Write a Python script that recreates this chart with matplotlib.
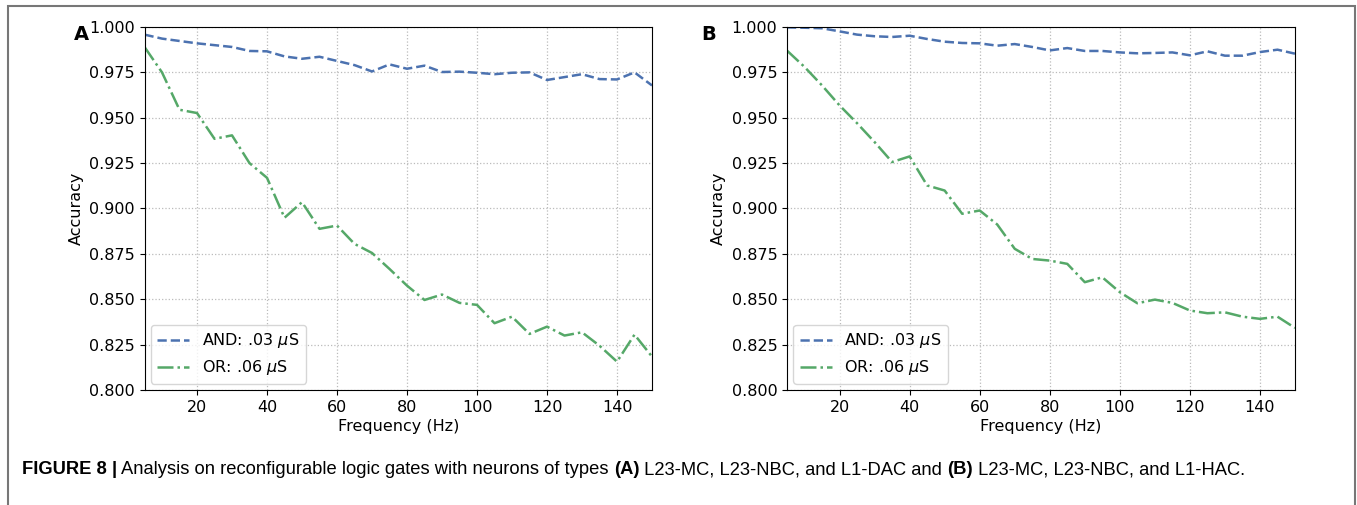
import numpy as np
import matplotlib
matplotlib.use("Agg")
import matplotlib.pyplot as plt
from matplotlib.patches import Rectangle

# frequencies (Hz)
freq = np.arange(5, 151, 5)

# panel A: L23-MC, L23-NBC, L1-DAC
and_a = [0.9958, 0.9936, 0.9923, 0.9910, 0.9900, 0.9890, 0.9868, 0.9866, 0.9838, 0.9825,
         0.9836, 0.9813, 0.9790, 0.9755, 0.9794, 0.9770, 0.9787, 0.9752, 0.9754, 0.9748,
         0.9740, 0.9748, 0.9750, 0.9708, 0.9724, 0.9740, 0.9713, 0.9711, 0.9750, 0.9678]
or_a = [0.9890, 0.9750, 0.9544, 0.9526, 0.9384, 0.9403, 0.9250, 0.9169, 0.8949, 0.9035,
        0.8888, 0.8906, 0.8805, 0.8755, 0.8667, 0.8575, 0.8496, 0.8526, 0.8480, 0.8469,
        0.8368, 0.8404, 0.8309, 0.8349, 0.8300, 0.8318, 0.8244, 0.8156, 0.8305, 0.8184]

# panel B: L23-MC, L23-NBC, L1-HAC
and_b = [0.9998, 0.9996, 0.9993, 0.9976, 0.9958, 0.9949, 0.9945, 0.9952, 0.9934, 0.9919,
         0.9912, 0.9910, 0.9897, 0.9906, 0.9890, 0.9871, 0.9884, 0.9868, 0.9868, 0.9860,
         0.9855, 0.9857, 0.9860, 0.9844, 0.9866, 0.9842, 0.9842, 0.9862, 0.9875, 0.9853]
or_b = [0.9870, 0.9780, 0.9678, 0.9568, 0.9470, 0.9366, 0.9256, 0.9287, 0.9127, 0.9099,
        0.8971, 0.8989, 0.8912, 0.8778, 0.8722, 0.8713, 0.8695, 0.8594, 0.8621, 0.8539,
        0.8478, 0.8498, 0.8480, 0.8438, 0.8423, 0.8428, 0.8404, 0.8392, 0.8404, 0.8342]

labels = ['AND: .03 $\\mu$S', 'OR: .06 $\\mu$S']
blue = '#4C72B0'
green = '#55A868'

W, H = 1357, 505
fig = plt.figure(figsize=(W / 100, H / 100), dpi=100)

def px_axes(left, right, top, bottom):
    return fig.add_axes([left / W, 1 - bottom / H, (right - left) / W, (bottom - top) / H])

panels = [
    (px_axes(144.5, 652, 27, 390), and_a, or_a, 'A', 81),
    (px_axes(787, 1295, 27, 390), and_b, or_b, 'B', 709),
]

for ax, a_vals, o_vals, letter, lx in panels:
    ax.plot(freq, a_vals, '--', color=blue, lw=1.8, label=labels[0])
    ax.plot(freq, o_vals, '-.', color=green, lw=1.8, label=labels[1])
    ax.set_xlim(5, 150)
    ax.set_ylim(0.8, 1.0)
    ax.set_xticks(np.arange(20, 141, 20))
    ax.set_yticks(np.arange(0.8, 1.0001, 0.025))
    ax.yaxis.set_major_formatter(matplotlib.ticker.FormatStrFormatter('%.3f'))
    ax.tick_params(labelsize=11.5)
    ax.grid(True, linestyle=':', color='#bbbbbb', lw=0.9)
    ax.set_xlabel('Frequency (Hz)', fontsize=11.5, labelpad=3)
    ax.set_ylabel('Accuracy', fontsize=11.5)
    ax.legend(loc='lower left', fontsize=11.5, framealpha=0.8, borderpad=0.4,
              handlelength=2.0, borderaxespad=0.4)
    fig.text(lx / W, 1 - 34 / H, letter, fontsize=14, fontweight='bold', va='center', ha='center')

# outer frame
fig.patches.append(Rectangle((8 / W, -0.01), 1347 / W, 1.01 - 6 / H,
                             transform=fig.transFigure, fill=False,
                             edgecolor='#777777', lw=1.5))

# caption
cap_y = 1 - 470 / H
fs = 13.2
t1 = fig.text(22 / W, cap_y, 'FIGURE 8 |', fontsize=fs, fontweight='bold',
              family='Liberation Sans', va='center')
fig.canvas.draw()
x = t1.get_window_extent().x1 + 4
parts = [('Analysis on reconfigurable logic gates with neurons of types ', 'normal'),
         ('(A)', 'bold'), (' L23-MC, L23-NBC, and L1-DAC and ', 'normal'),
         ('(B)', 'bold'), (' L23-MC, L23-NBC, and L1-HAC.', 'normal')]
for s, w in parts:
    t = fig.text(x / W, cap_y, s, fontsize=fs, fontweight=w,
                 family='Liberation Sans', va='center')
    fig.canvas.draw()
    x = t.get_window_extent().x1

fig.savefig('out.png', dpi=100)
